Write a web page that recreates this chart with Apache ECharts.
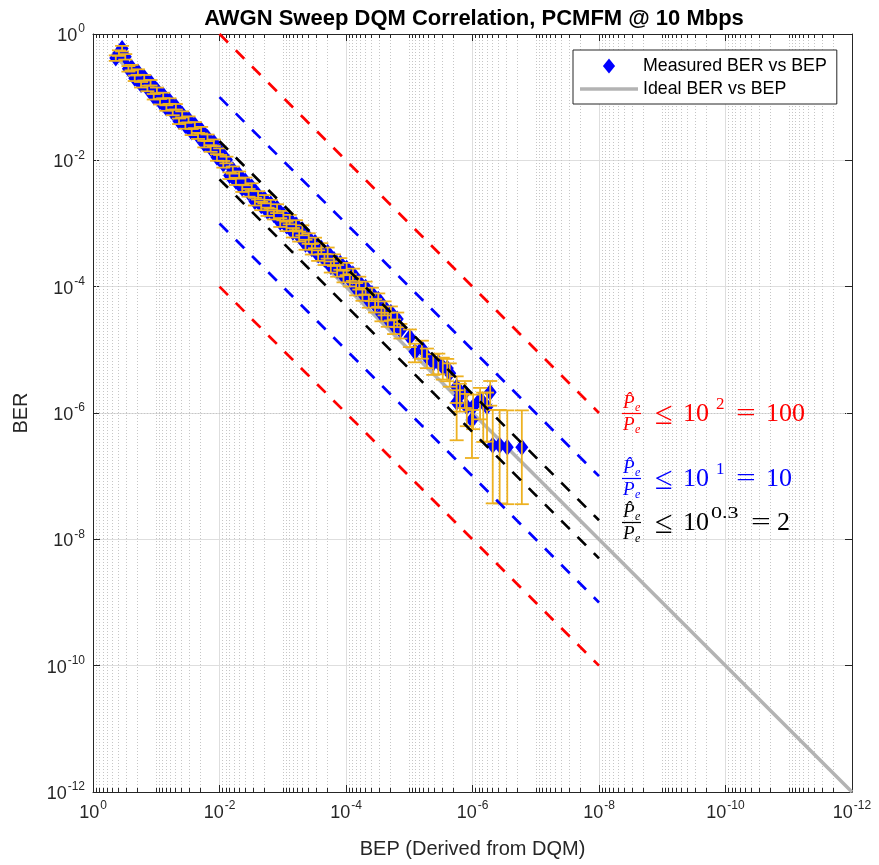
<!DOCTYPE html>
<html><head><meta charset="utf-8">
<script src="https://cdn.jsdelivr.net/npm/echarts@6/dist/echarts.min.js"></script>
<style>html,body{margin:0;padding:0;background:#fff}#c{width:879px;height:865px}</style>
</head><body><div id="c"></div>
<script>
// ---------------- data ----------------
const bep = [
0.4365,0.3890,0.3467,0.3090,0.2754,0.2455,0.2188,0.1950,0.1738,0.1549,0.1380,0.1230,0.1096,
0.09772,0.08710,0.07762,0.06918,0.06166,0.05495,0.04898,0.04365,0.03890,0.03467,0.03090,0.02754,0.02455,0.02188,0.01950,0.01738,0.01549,0.01380,0.01230,0.01096,
0.009772,0.008710,0.007762,0.006918,0.006166,0.005495,0.004898,0.004365,0.003890,0.003467,0.003090,0.002754,0.002455,0.002188,0.001950,0.001738,0.001549,0.001380,0.001230,0.001096,
0.0009772,0.0008710,0.0007762,0.0006918,0.0006166,0.0005495,0.0004898,0.0004365,0.0003890,0.0003467,0.0003090,0.0002754,0.0002455,0.0002188,0.0001950,0.0001738,0.0001549,0.0001380,0.0001230,0.0001096,
9.772e-5,8.710e-5,7.762e-5,6.918e-5,6.166e-5,5.495e-5,4.898e-5,4.365e-5,3.890e-5,3.467e-5,3.090e-5,2.754e-5,2.455e-5,2.188e-5,1.950e-5,1.738e-5,1.549e-5,1.380e-5,
9.77e-6,8.13e-6,6.31e-6,5.25e-6,4.17e-6,3.47e-6,2.95e-6,2.51e-6,2.29e-6,1.78e-6,1.78e-6,1.58e-6,1.32e-6,1.23e-6,1.02e-6,
9.77e-7,7.59e-7,6.76e-7,5.89e-7,5.25e-7,4.79e-7,3.72e-7,2.82e-7,1.66e-7];
const ber = [
0.417,0.501,0.589,0.437,0.282,0.295,0.200,0.251,0.158,0.204,0.138,0.170,0.102,
0.129,0.0851,0.107,0.0676,0.0871,0.0575,0.0708,0.0417,0.0537,0.0355,0.0447,0.0282,0.0363,0.0245,0.0302,0.0182,0.0229,0.0155,0.0191,0.0112,
0.0138,0.00871,0.0102,0.00575,0.00708,0.00468,0.00589,0.00363,0.00468,0.00309,0.00380,0.00224,0.00282,0.00191,0.00245,0.00155,0.00204,0.00138,0.00174,0.00105,
0.00135,0.000912,0.00117,0.000724,0.000955,0.000631,0.000794,0.000468,0.000589,0.000398,0.000501,0.000316,0.000407,0.000275,0.000347,0.000209,0.000269,0.000182,0.000234,0.000148,
1.95e-4,1.29e-4,1.58e-4,9.33e-5,1.17e-4,7.76e-5,9.77e-5,6.03e-5,7.76e-5,5.13e-5,6.31e-5,3.72e-5,4.68e-5,3.09e-5,3.89e-5,2.40e-5,3.09e-5,2.04e-5,
1.58e-5,9.33e-6,1.05e-5,7.76e-6,6.17e-6,6.31e-6,5.37e-6,5.13e-6,4.27e-6,2.57e-6,1.48e-6,1.91e-6,2.14e-6,1.26e-6,7.76e-7,
1.26e-6,1.62e-6,1.45e-6,1.26e-6,2.14e-6,3.09e-7,3.09e-7,2.88e-7,2.88e-7];
// error bar half-lengths, as a fraction of BER (below / above)
const errNeg = [
0.10,0.10,0.10,0.10,0.10,0.10,0.10,0.10,0.10,0.10,0.10,0.10,0.10,
0.10,0.10,0.10,0.10,0.10,0.10,0.10,0.10,0.11,0.11,0.11,0.11,0.11,0.11,0.12,0.12,0.12,0.12,0.12,0.12,
0.12,0.12,0.12,0.12,0.13,0.13,0.13,0.13,0.14,0.14,0.14,0.14,0.15,0.15,0.15,0.15,0.16,0.16,0.16,0.16,
0.17,0.17,0.17,0.17,0.18,0.18,0.18,0.18,0.19,0.19,0.19,0.19,0.20,0.20,0.20,0.20,0.21,0.21,0.21,0.21,
0.22,0.22,0.22,0.22,0.23,0.23,0.23,0.23,0.24,0.24,0.24,0.24,0.25,0.25,0.25,0.26,0.26,0.26,
0.30,0.32,0.31,0.34,0.35,0.35,0.37,0.38,0.39,0.44,0.75,0.45,0.44,0.51,0.75,
0.56,0.51,0.76,0.72,0.39,0.88,0.88,0.875,0.875];
const errPos = [
0.10,0.10,0.10,0.10,0.10,0.10,0.10,0.10,0.10,0.10,0.10,0.10,0.10,
0.10,0.10,0.10,0.10,0.10,0.10,0.10,0.10,0.11,0.11,0.11,0.11,0.11,0.11,0.12,0.12,0.12,0.12,0.12,0.12,
0.12,0.12,0.12,0.12,0.13,0.13,0.13,0.13,0.14,0.14,0.14,0.14,0.15,0.15,0.15,0.15,0.16,0.16,0.16,0.16,
0.17,0.17,0.17,0.17,0.18,0.18,0.18,0.18,0.19,0.19,0.19,0.19,0.20,0.20,0.20,0.20,0.21,0.21,0.21,0.21,
0.22,0.22,0.22,0.22,0.23,0.23,0.23,0.23,0.24,0.24,0.24,0.24,0.25,0.25,0.25,0.26,0.26,0.26,
0.33,0.34,0.33,0.35,0.38,0.38,0.40,0.40,0.43,0.48,0.55,0.52,0.50,0.59,0.44,
0.55,0.54,0.45,0.67,0.50,2.62,2.62,2.82,2.82];
const idealBEP = [0.5, 1e-12];
const idealBER = [0.5, 1e-12];
const boundBEP = [1e-2, 1e-8];
const redUpper = [1, 1e-6],    redLower = [1e-4, 1e-10];
const blueUpper = [1e-1, 1e-7], blueLower = [1e-3, 1e-9];
const blackUpper = [2e-2, 2e-8], blackLower = [5e-3, 5e-9];
const axisMinExp = -12, axisMaxExp = 0, tickStepExp = 2;
const titleText = 'AWGN Sweep DQM Correlation, PCMFM @ 10 Mbps';
const xName = 'BEP (Derived from DQM)', yName = 'BER';
const legendNames = ['Measured BER vs BEP', 'Ideal BER vs BEP'];
const annoColors = ['#FF0000', '#0000FF', '#000000'];
const annoExp = ['2', '1', '0.3'];
const annoVal = ['100', '10', '2'];

// ---------------- build ----------------
const L = Math.log10;
const measured = bep.map((b, i) => [L(b), L(ber[i])]);
const bars = bep.map((b, i) => [L(b), L(ber[i] * (1 - errNeg[i])), L(ber[i] * (1 + errPos[i]))]);
const ideal = idealBEP.map((b, i) => [L(b), L(idealBER[i])]);
const mk = arr => boundBEP.map((b, i) => [L(b), L(arr[i])]);

const minorPos = [];
for (let d = 0; d > axisMinExp; d--) {
  for (let m = 2; m <= 9; m++) minorPos.push(d - 1 + Math.log10(m));
  if ((d - 1) % 2 !== 0) minorPos.push(d - 1);
}
const AX = '#262626';
const FONT = '"Liberation Sans", Arial, sans-serif';
const SERIF = '"Liberation Serif", "Times New Roman", serif';
const labelFmt = v => '{b|10}{s|' + Math.round(v) + '}';
const labelRich = {
  b: {fontSize: 18, fontFamily: FONT, color: AX, verticalAlign: 'bottom', lineHeight: 22},
  s: {fontSize: 12, fontFamily: FONT, color: AX, verticalAlign: 'top', lineHeight: 22, padding: [0, 0, 0, 1]}
};
function axisCommon(extra) {
  return Object.assign({
    type: 'value', min: axisMinExp, max: axisMaxExp, interval: tickStepExp,
    axisLine: {show: true, onZero: false, lineStyle: {color: AX, width: 1}},
    axisTick: {show: true, inside: true, length: 7, lineStyle: {color: AX, width: 1}},
    splitLine: {show: false}
  }, extra);
}
const lineGridStyle = {stroke: '#c6c6c6', lineWidth: 1, lineDash: [1, 2]};
function minorRender(vertical) {
  return function (params, api) {
    const cs = params.coordSys;
    const v = api.value(0);
    if (vertical) {
      const x = Math.round(api.coord([v, -6])[0]) + 0.5;
      return {type: 'group', children: [
        {type: 'line', shape: {x1: x, y1: cs.y, x2: x, y2: cs.y + cs.height}, style: lineGridStyle},
        {type: 'line', shape: {x1: x, y1: cs.y, x2: x, y2: cs.y + 4}, style: {stroke: AX, lineWidth: 1}},
        {type: 'line', shape: {x1: x, y1: cs.y + cs.height, x2: x, y2: cs.y + cs.height - 4}, style: {stroke: AX, lineWidth: 1}}
      ]};
    }
    const y = Math.round(api.coord([-6, v])[1]) + 0.5;
    return {type: 'group', children: [
      {type: 'line', shape: {x1: cs.x, y1: y, x2: cs.x + cs.width, y2: y}, style: lineGridStyle},
      {type: 'line', shape: {x1: cs.x, y1: y, x2: cs.x + 4, y2: y}, style: {stroke: AX, lineWidth: 1}},
      {type: 'line', shape: {x1: cs.x + cs.width, y1: y, x2: cs.x + cs.width - 4, y2: y}, style: {stroke: AX, lineWidth: 1}}
    ]};
  };
}
function dashed(name, data, color) {
  return {type: 'line', name: name, data: data, symbol: 'none', z: 6, silent: true,
    lineStyle: {color: color, width: 2.7, type: [12, 11]}};
}

// annotation graphics (text)
const annoY = [413, 478, 522];
const graphics = [];
annoColors.forEach((c, i) => {
  const cy = annoY[i];
  const supX = i === 2 ? 711 : 716;
  const eqX = i === 2 ? 751 : 736;
  const valX = i === 2 ? 777 : 766;
  const t = (text, x, y, size, italic, sx, sy) => graphics.push({type: 'text', z: 100,
    x: x, y: y, scaleX: sx || 1, scaleY: sy || 1,
    style: {text: text, fill: c, font: (italic ? 'italic ' : '') + size + 'px ' + SERIF,
    textAlign: 'left', textVerticalAlign: 'middle'}});
  t('P\u0302', 623, cy - 10, 19, true);
  t('e', 635, cy - 5, 12, true);
  graphics.push({type: 'line', z: 100, shape: {x1: 622, y1: cy + 0.5, x2: 641, y2: cy + 0.5}, style: {stroke: c, lineWidth: 1.2}});
  t('P', 623, cy + 12, 19, true);
  t('e', 635, cy + 17, 12, true);
  t('\u2264', 655, cy + 2, 25, false, 1.3, 1.3);
  t('10', 683, cy + 1, 26, false);
  t(annoExp[i], supX, cy - 8, 17, false, i === 2 ? 1.3 : 1, 1);
  t('=', eqX, cy + 1, 25, false, 1.4, 1);
  t(annoVal[i], valX, cy + 1, 26, false);
});

const chart = echarts.init(document.getElementById('c'));
chart.setOption({
  animation: false,
  backgroundColor: '#fff',
  title: {text: titleText, left: 469, top: 3, textAlign: 'center',
    textStyle: {fontFamily: FONT, fontSize: 22, fontWeight: 'bold', color: '#000'}},
  grid: {left: 93, right: 27, top: 34, bottom: 73, containLabel: false},
  xAxis: [
    axisCommon({position: 'bottom', inverse: true,
      axisLabel: {formatter: labelFmt, rich: labelRich, margin: 8},
      splitLine: {show: true, lineStyle: {color: '#dedede', width: 1}},
      name: xName, nameLocation: 'middle', nameGap: 47,
      nameTextStyle: {fontFamily: FONT, fontSize: 20, color: AX}}),
    axisCommon({position: 'top', inverse: true, axisLabel: {show: false}})
  ],
  yAxis: [
    axisCommon({position: 'left',
      axisLabel: {formatter: labelFmt, rich: labelRich, margin: 8},
      splitLine: {show: true, lineStyle: {color: '#dedede', width: 1}},
      name: yName, nameLocation: 'middle', nameGap: 62,
      nameTextStyle: {fontFamily: FONT, fontSize: 20, color: AX}}),
    axisCommon({position: 'right', axisLabel: {show: false}})
  ],
  legend: {
    left: 573, top: 50, orient: 'vertical', itemWidth: 58, itemHeight: 15, itemGap: 3,
    padding: [6, 10, 5, 7], borderColor: AX, borderWidth: 1, backgroundColor: '#fff', z: 50,
    textStyle: {fontFamily: FONT, fontSize: 17.8, color: '#000', lineHeight: 20},
    data: [
      {name: legendNames[0], icon: 'path://M0,-8L6.5,0L0,8L-6.5,0Z', itemStyle: {color: '#0000FF'}},
      {name: legendNames[1], icon: 'path://M0,0L58,0L58,3.5L0,3.5Z', itemStyle: {color: '#B3B3B3'}}
    ]
  },
  graphic: graphics,
  series: [
    {type: 'custom', name: 'minorX', silent: true, z: 1, data: minorPos.map(p => [p, -6]),
      encode: {x: 0, y: 1}, renderItem: minorRender(true)},
    {type: 'custom', name: 'minorY', silent: true, z: 1, data: minorPos.map(p => [-6, p]),
      encode: {x: 0, y: 1}, renderItem: minorRender(false)},
    {type: 'line', name: legendNames[1], data: ideal, symbol: 'none', z: 2,
      lineStyle: {color: '#B3B3B3', width: 3.5}, itemStyle: {color: '#B3B3B3'}},
    {type: 'scatter', name: legendNames[0], data: measured, symbol: 'diamond', symbolSize: [13, 17],
      itemStyle: {color: '#0000FF', opacity: 1}, z: 3},
    {type: 'custom', name: 'errorbars', silent: true, z: 4, data: bars, encode: {x: 0, y: [1, 2]},
      renderItem: function (params, api) {
        const x = api.value(0);
        const a = api.coord([x, api.value(1)]);
        const b = api.coord([x, api.value(2)]);
        const hw = 7, st = {stroke: '#EDB120', lineWidth: 1.8};
        return {type: 'group', children: [
          {type: 'line', shape: {x1: a[0], y1: a[1], x2: b[0], y2: b[1]}, style: st},
          {type: 'line', shape: {x1: a[0] - hw, y1: a[1], x2: a[0] + hw, y2: a[1]}, style: st},
          {type: 'line', shape: {x1: b[0] - hw, y1: b[1], x2: b[0] + hw, y2: b[1]}, style: st}
        ]};
      }},
    dashed('r1', mk(redUpper), '#FF0000'),
    dashed('r2', mk(redLower), '#FF0000'),
    dashed('b1', mk(blueUpper), '#0000FF'),
    dashed('b2', mk(blueLower), '#0000FF'),
    dashed('k1', mk(blackUpper), '#000000'),
    dashed('k2', mk(blackLower), '#000000')
  ]
});
</script>
</body></html>
